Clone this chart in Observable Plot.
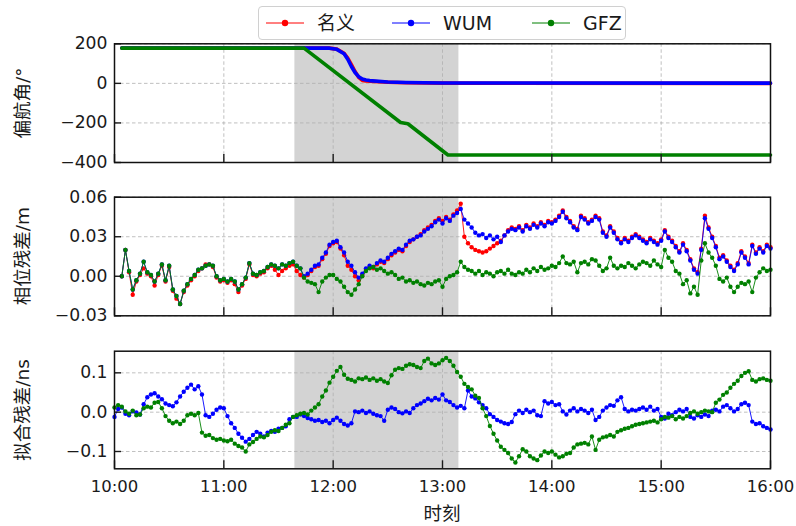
<!DOCTYPE html>
<html>
<head>
<meta charset="utf-8">
<script src="https://cdn.jsdelivr.net/npm/d3@7"></script>
<script src="https://cdn.jsdelivr.net/npm/@observablehq/plot@0.6"></script>
<style>
  body { margin: 0; background: #fff; }
  #chart { position: relative; width: 796px; height: 526px; overflow: hidden;
           font-family: "DejaVu Sans", "Noto Sans CJK SC", sans-serif; color: #1a1a1a; }
  .panel { position: absolute; left: 0; }
  #legend { position: absolute; left: 258px; top: 6px; width: 366px; height: 32px;
            border: 1px solid #d0d0d0; border-radius: 4px; background: rgba(255,255,255,0.85);
            z-index: 2; font-size: 19px; }
  #legend .sw { position: absolute; top: 6px; }
  #legend .lab { position: absolute; top: 3px; line-height: 26px; white-space: nowrap; }
  .ylab { position: absolute; left: 23px; transform: translate(-50%, -50%) rotate(-90deg);
          white-space: nowrap; font-size: 18.5px; line-height: 1; z-index: 1; }
  .xlab { position: absolute; left: 442px; top: 514px; transform: translate(-50%, -50%);
          white-space: nowrap; font-size: 18.5px; line-height: 1; }
</style>
</head>
<body>
<div id="chart">
  <div id="legend"></div>
</div>
<script>
// ---- series identity ----
const seriesNames  = ["名义", "WUM", "GFZ"];
const seriesColors = ["#ff0000", "#0000ff", "#008000"];

// ---- time axis (minutes after 10:00) ----
const timeTicks  = [0, 60, 120, 180, 240, 300, 360];
const timeLabels = ["10:00", "11:00", "12:00", "13:00", "14:00", "15:00", "16:00"];
const timeTitle = "时刻";
const eclipseWindow = [99, 189];   // shaded interval, minutes after 10:00

// ---- yaw angle (deg) ----
const yawNominalTime = [4, 118, 122, 126, 128, 130, 132, 134, 136, 138, 140, 150, 160, 180, 360];
const yawNominal     = [179, 178, 173, 152, 128, 95, 60, 30, 15, 12, 11, 6, 3, 1, 0];
const yawWumTime     = [4, 118, 122, 126, 128, 130, 132, 134, 136, 138, 140, 150, 160, 180, 360];
const yawWum         = [179, 178, 172, 150, 122, 85, 55, 34, 22, 17, 14, 7, 4, 2, 1];
const yawGfzTime     = [4, 104, 157, 161, 183, 360];
const yawGfz         = [178, 178, -198, -204, -362, -362];
const yawTicks = [-400, -200, 0, 200];

// ---- phase residuals (m), one epoch every 2 min from 10:04 ----
const phaseStart = 4, phaseStep = 2;
const phaseNominal = [
  0.000, 0.020, 0.003, -0.014, -0.004, 0.001, 0.006, 0.002, 0.000, -0.007,
  0.001, 0.008, -0.004, 0.007, -0.011, -0.017, -0.021, -0.012, -0.007, -0.003,
  0.000, 0.004, 0.006, 0.009, 0.009, 0.007, -0.001, -0.004, -0.003, -0.005,
  -0.003, -0.006, -0.012, -0.007, -0.002, 0.009, 0.001, 0.000, 0.002, 0.003,
  0.006, 0.008, 0.005, 0.001, 0.004, 0.006, 0.008, 0.009, 0.004, 0.001,
  -0.001, 0.001, 0.004, 0.007, 0.008, 0.013, 0.017, 0.023, 0.025, 0.026,
  0.021, 0.016, 0.008, 0.005, 0.000, -0.003, 0.001, 0.005, 0.007, 0.006,
  0.009, 0.011, 0.010, 0.013, 0.016, 0.018, 0.020, 0.019, 0.023, 0.026,
  0.028, 0.030, 0.032, 0.035, 0.037, 0.039, 0.042, 0.044, 0.042, 0.045,
  0.043, 0.047, 0.050, 0.055, 0.030, 0.025, 0.022, 0.020, 0.019, 0.018,
  0.019, 0.021, 0.023, 0.025, 0.027, 0.031, 0.035, 0.037, 0.036, 0.038,
  0.035, 0.039, 0.037, 0.040, 0.038, 0.041, 0.039, 0.042, 0.041, 0.043,
  0.046, 0.050, 0.045, 0.042, 0.038, 0.036, 0.046, 0.044, 0.041, 0.043,
  0.046, 0.044, 0.034, 0.031, 0.038, 0.034, 0.029, 0.026, 0.029, 0.027,
  0.030, 0.032, 0.030, 0.028, 0.026, 0.029, 0.027, 0.025, 0.028, 0.035,
  0.030, 0.027, 0.023, 0.019, 0.025, 0.020, 0.013, 0.006, 0.003, 0.021,
  0.046, 0.037, 0.030, 0.023, 0.014, 0.016, 0.012, 0.008, 0.005, 0.010,
  0.019, 0.015, 0.010, 0.024, 0.018, 0.022, 0.019, 0.024, 0.022
];
const phaseWum = [
  0.000, 0.020, 0.004, -0.010, -0.003, 0.002, 0.011, 0.003, 0.001, -0.004,
  0.002, 0.009, -0.003, 0.008, -0.010, -0.015, -0.021, -0.011, -0.006, -0.002,
  0.001, 0.005, 0.006, 0.008, 0.009, 0.008, 0.000, -0.003, -0.002, -0.004,
  -0.002, -0.004, -0.010, -0.006, -0.001, 0.010, 0.002, 0.001, 0.003, 0.004,
  0.007, 0.009, 0.008, 0.006, 0.009, 0.008, 0.010, 0.011, 0.008, 0.006,
  0.000, 0.002, 0.005, 0.008, 0.009, 0.014, 0.018, 0.024, 0.026, 0.027,
  0.022, 0.018, 0.011, 0.008, 0.003, -0.001, 0.002, 0.006, 0.008, 0.007,
  0.010, 0.012, 0.011, 0.014, 0.017, 0.019, 0.021, 0.020, 0.024, 0.027,
  0.028, 0.030, 0.031, 0.034, 0.036, 0.038, 0.041, 0.043, 0.040, 0.044,
  0.042, 0.046, 0.048, 0.051, 0.043, 0.040, 0.037, 0.033, 0.031, 0.032,
  0.029, 0.031, 0.028, 0.030, 0.026, 0.031, 0.034, 0.036, 0.035, 0.037,
  0.034, 0.038, 0.036, 0.039, 0.037, 0.040, 0.038, 0.041, 0.040, 0.042,
  0.045, 0.049, 0.044, 0.041, 0.037, 0.035, 0.045, 0.043, 0.040, 0.042,
  0.045, 0.043, 0.033, 0.030, 0.037, 0.033, 0.028, 0.025, 0.028, 0.026,
  0.029, 0.031, 0.029, 0.027, 0.025, 0.028, 0.026, 0.024, 0.027, 0.034,
  0.029, 0.026, 0.022, 0.018, 0.024, 0.019, 0.012, 0.005, 0.002, 0.020,
  0.044, 0.036, 0.029, 0.022, 0.013, 0.015, 0.011, 0.007, 0.004, 0.009,
  0.018, 0.014, 0.009, 0.023, 0.017, 0.021, 0.018, 0.023, 0.021
];
const phaseGfz = [
  0.000, 0.020, 0.004, -0.010, -0.003, 0.002, 0.011, 0.003, 0.001, -0.004,
  0.002, 0.009, -0.003, 0.008, -0.010, -0.015, -0.021, -0.011, -0.006, -0.002,
  0.001, 0.005, 0.006, 0.008, 0.009, 0.008, 0.000, -0.003, -0.002, -0.004,
  -0.002, -0.004, -0.010, -0.006, -0.001, 0.010, 0.002, 0.001, 0.003, 0.004,
  0.007, 0.009, 0.008, 0.006, 0.009, 0.008, 0.010, 0.011, 0.008, 0.006,
  -0.001, -0.004, -0.005, -0.006, -0.012, -0.004, -0.001, 0.001, 0.001, -0.002,
  -0.004, -0.008, -0.012, -0.014, -0.010, -0.006, 0.000, 0.004, 0.006, 0.007,
  0.005, 0.006, 0.004, 0.002, 0.003, 0.001, -0.002, -0.001, -0.004, -0.003,
  -0.005, -0.004, -0.006, -0.007, -0.005, -0.006, -0.004, -0.003, -0.008, -0.002,
  0.000, 0.001, 0.003, 0.011, 0.007, 0.005, 0.004, 0.002, 0.004, 0.001,
  0.003, 0.002, 0.000, 0.003, 0.004, 0.002, 0.005, 0.002, 0.001, 0.003,
  0.002, 0.005, 0.003, 0.006, 0.004, 0.007, 0.005, 0.006, 0.008, 0.007,
  0.010, 0.015, 0.010, 0.009, 0.011, 0.003, 0.010, 0.011, 0.009, 0.013,
  0.012, 0.008, 0.004, 0.006, 0.014, 0.008, 0.006, 0.008, 0.007, 0.010,
  0.008, 0.006, 0.009, 0.011, 0.010, 0.008, 0.012, 0.009, 0.007, 0.020,
  0.014, 0.011, 0.004, 0.002, -0.006, -0.003, -0.013, -0.008, -0.014, 0.012,
  0.025, 0.018, 0.014, 0.008, -0.002, -0.004, -0.001, -0.008, -0.012, -0.008,
  -0.005, -0.006, -0.004, -0.012, -0.001, 0.003, 0.006, 0.004, 0.005
];
const phaseTicks = [-0.03, 0, 0.03, 0.06];

// ---- clock fit residuals (ns), one epoch every 2 min from 10:00 ----
const fitStart = 0, fitStep = 2;
const fitWum = [
  -0.012, 0.008, 0.012, -0.004, -0.008, 0.002, -0.001, -0.006, 0.020, 0.038,
  0.045, 0.048, 0.040, 0.033, 0.022, 0.018, 0.015, 0.025, 0.040, 0.052,
  0.062, 0.070, 0.058, 0.066, 0.045, -0.008, -0.012, -0.004, 0.006, 0.012,
  0.010, -0.010, -0.028, -0.040, -0.055, -0.065, -0.075, -0.068, -0.058, -0.050,
  -0.055, -0.062, -0.052, -0.048, -0.050, -0.042, -0.040, -0.036, -0.018, -0.012,
  -0.012, -0.006, -0.010, -0.015, -0.018, -0.022, -0.020, -0.025, -0.022, -0.028,
  -0.020, -0.014, -0.022, -0.030, -0.034, -0.028, 0.002, 0.000, 0.004, -0.002,
  0.002, -0.004, -0.008, -0.010, -0.022, 0.006, 0.012, 0.008, 0.000, -0.003,
  0.002, -0.002, 0.010, 0.018, 0.022, 0.028, 0.034, 0.030, 0.036, 0.032,
  0.045, 0.030, 0.026, 0.018, 0.012, 0.016, 0.010, 0.055, 0.040, 0.035,
  0.025, 0.018, 0.010, -0.005, -0.012, -0.020, -0.024, -0.028, -0.030, -0.025,
  -0.005, 0.004, -0.002, 0.006, 0.000, 0.004, -0.008, -0.010, 0.028, 0.022,
  0.026, 0.018, 0.020, 0.002, -0.006, 0.004, 0.010, 0.002, 0.008, 0.004,
  -0.002, 0.006, -0.020, -0.012, 0.004, 0.012, 0.018, 0.016, 0.030, 0.038,
  0.008, 0.002, 0.006, 0.004, 0.008, 0.012, 0.006, 0.014, 0.004, 0.008,
  -0.012, -0.016, -0.004, -0.008, 0.000, 0.006, 0.002, 0.008, -0.012, -0.016,
  -0.008, -0.012, -0.006, -0.010, 0.004, 0.006, 0.002, 0.014, 0.018, 0.010,
  0.002, 0.008, 0.020, 0.024, 0.018, -0.024, -0.030, -0.028, -0.036, -0.040,
  -0.044
];
const fitGfz = [
  0.012, 0.018, 0.014, 0.002, -0.004, 0.004, -0.008, -0.006, 0.010, 0.014,
  0.012, 0.024, 0.026, 0.010, -0.010, -0.022, -0.028, -0.024, -0.030, -0.022,
  -0.008, -0.004, -0.008, -0.002, -0.052, -0.060, -0.058, -0.066, -0.070, -0.068,
  -0.072, -0.074, -0.070, -0.080, -0.086, -0.090, -0.100, -0.082, -0.076, -0.068,
  -0.062, -0.064, -0.058, -0.050, -0.046, -0.048, -0.040, -0.032, -0.028, -0.012,
  -0.008, -0.004, -0.002, -0.006, 0.004, 0.012, 0.020, 0.040, 0.055, 0.075,
  0.090, 0.105, 0.115, 0.095, 0.085, 0.082, 0.078, 0.086, 0.084, 0.088,
  0.082, 0.086, 0.080, 0.084, 0.078, 0.074, 0.094, 0.108, 0.112, 0.110,
  0.118, 0.122, 0.120, 0.115, 0.112, 0.130, 0.136, 0.124, 0.120, 0.124,
  0.132, 0.138, 0.130, 0.118, 0.102, 0.090, 0.072, 0.064, 0.058, 0.042,
  0.036, 0.010, -0.010, -0.035, -0.055, -0.072, -0.088, -0.096, -0.104, -0.118,
  -0.128, -0.112, -0.094, -0.100, -0.112, -0.118, -0.122, -0.110, -0.100, -0.104,
  -0.100, -0.108, -0.115, -0.112, -0.106, -0.104, -0.090, -0.082, -0.080, -0.078,
  -0.082, -0.062, -0.096, -0.070, -0.064, -0.062, -0.058, -0.062, -0.050, -0.046,
  -0.042, -0.040, -0.036, -0.032, -0.030, -0.028, -0.026, -0.024, -0.022, -0.026,
  -0.018, -0.012, -0.014, -0.010, -0.018, -0.012, -0.016, -0.010, -0.002, 0.002,
  -0.004, 0.000, 0.004, 0.002, 0.000, 0.024, 0.032, 0.044, 0.050, 0.062,
  0.072, 0.080, 0.092, 0.100, 0.104, 0.082, 0.078, 0.084, 0.086, 0.082,
  0.080
];
const fitTicks = [-0.1, 0, 0.1];

// ---- helpers ----
const chart = document.getElementById("chart");
const rowsFrom = (values, start, step) => values.map((v, i) => ({t: start + i * step, v}));
const rowsPaired = (times, values) => times.map((t, i) => ({t, v: values[i]}));
const fmtTime = d => timeLabels[timeTicks.indexOf(d)];
const gridStyle = {stroke: "#b0b0b0", strokeOpacity: 1, strokeWidth: 0.8, strokeDasharray: "3.5,2.5"};
const fontStack = "'DejaVu Sans', 'Noto Sans CJK SC', sans-serif";

function residualMarks(seriesRows) {
  return seriesRows.flatMap((rows, k) => [
    Plot.line(rows, {x: "t", y: "v", stroke: seriesColors[k], strokeWidth: 0.9}),
    Plot.dot(rows, {x: "t", y: "v", fill: seriesColors[k], r: 2.2, stroke: "none"})
  ]);
}

function addText(cls, text, styles) {
  const el = document.createElement("div");
  el.className = cls;
  el.textContent = text;
  Object.assign(el.style, styles);
  chart.appendChild(el);
}

function panel({top, height, marginTop, marginBottom, domain, ticks, tickFormat, label, marks, bottom}) {
  const svg = Plot.plot({
    width: 796, height, marginLeft: 114, marginRight: 26, marginTop, marginBottom,
    style: {background: "transparent", fontFamily: fontStack, fontSize: "17px", color: "#1a1a1a", overflow: "visible"},
    x: {domain: [0, 360]},
    y: {domain},
    marks: [
      Plot.rect([eclipseWindow], {x1: d => d[0], x2: d => d[1], fill: "#d3d3d3"}),
      Plot.gridX(timeTicks, gridStyle),
      Plot.gridY(ticks, gridStyle),
      ...marks,
      Plot.axisY(ticks, {tickSize: -7, tickPadding: 14, strokeWidth: 1.4, tickFormat, label: null, fontSize: 17.2}),
      bottom
        ? Plot.axisX(timeTicks, {tickSize: -8, tickPadding: 19, strokeWidth: 1.4, tickFormat: fmtTime, label: null, fontSize: 16.5})
        : Plot.axisX(timeTicks, {tickSize: -8, strokeWidth: 1.4, tickFormat: () => "", label: null}),
      Plot.frame({stroke: "#111", strokeWidth: 1.5})
    ]
  });
  svg.classList.add("panel");
  svg.style.top = top + "px";
  svg.style.position = "absolute";
  chart.appendChild(svg);
  // rotated y-axis title centred on the panel frame
  addText("ylab", label, {top: (top + marginTop + (height - marginTop - marginBottom) / 2) + "px"});
}

// yaw angle
panel({
  top: 0, height: 170, marginTop: 43.3, marginBottom: 8,
  domain: [-400, 200], ticks: yawTicks, tickFormat: d3.format("d"), label: "偏航角/°",
  marks: [rowsPaired(yawNominalTime, yawNominal), rowsPaired(yawWumTime, yawWum), rowsPaired(yawGfzTime, yawGfz)]
    .map((rows, k) => Plot.line(rows, {x: "t", y: "v", stroke: seriesColors[k], strokeWidth: 3.6}))
});

// phase residuals
panel({
  top: 170, height: 150, marginTop: 26.7, marginBottom: 4.7,
  domain: [-0.03, 0.06], ticks: phaseTicks, tickFormat: d3.format(".2f"), label: "相位残差/m",
  marks: residualMarks([
    rowsFrom(phaseNominal, phaseStart, phaseStep),
    rowsFrom(phaseWum, phaseStart, phaseStep),
    rowsFrom(phaseGfz, phaseStart, phaseStep)
  ])
});

// clock fit residuals
panel({
  top: 320, height: 206, marginTop: 30.7, marginBottom: 57.7,
  domain: [-0.144, 0.155], ticks: fitTicks, tickFormat: d3.format(".1f"), label: "拟合残差/ns",
  marks: residualMarks([
    [],
    rowsFrom(fitWum, fitStart, fitStep),
    rowsFrom(fitGfz, fitStart, fitStep)
  ]),
  bottom: true
});

addText("xlab", timeTitle, {});

// legend
const legend = document.getElementById("legend");
const swatchLeft = [7, 133, 273];
const labelLeft = [58, 184, 324];
seriesNames.forEach((name, k) => {
  const sw = document.createElementNS("http://www.w3.org/2000/svg", "svg");
  sw.setAttribute("class", "sw");
  sw.setAttribute("width", 38);
  sw.setAttribute("height", 20);
  sw.style.left = swatchLeft[k] + "px";
  sw.innerHTML = `<line x1="0" y1="10" x2="38" y2="10" stroke="${seriesColors[k]}" stroke-width="1"/>` +
                 `<circle cx="19" cy="10" r="3.2" fill="${seriesColors[k]}"/>`;
  legend.appendChild(sw);
  const lab = document.createElement("div");
  lab.className = "lab";
  lab.style.left = labelLeft[k] + "px";
  lab.textContent = name;
  legend.appendChild(lab);
});
</script>
</body>
</html>
